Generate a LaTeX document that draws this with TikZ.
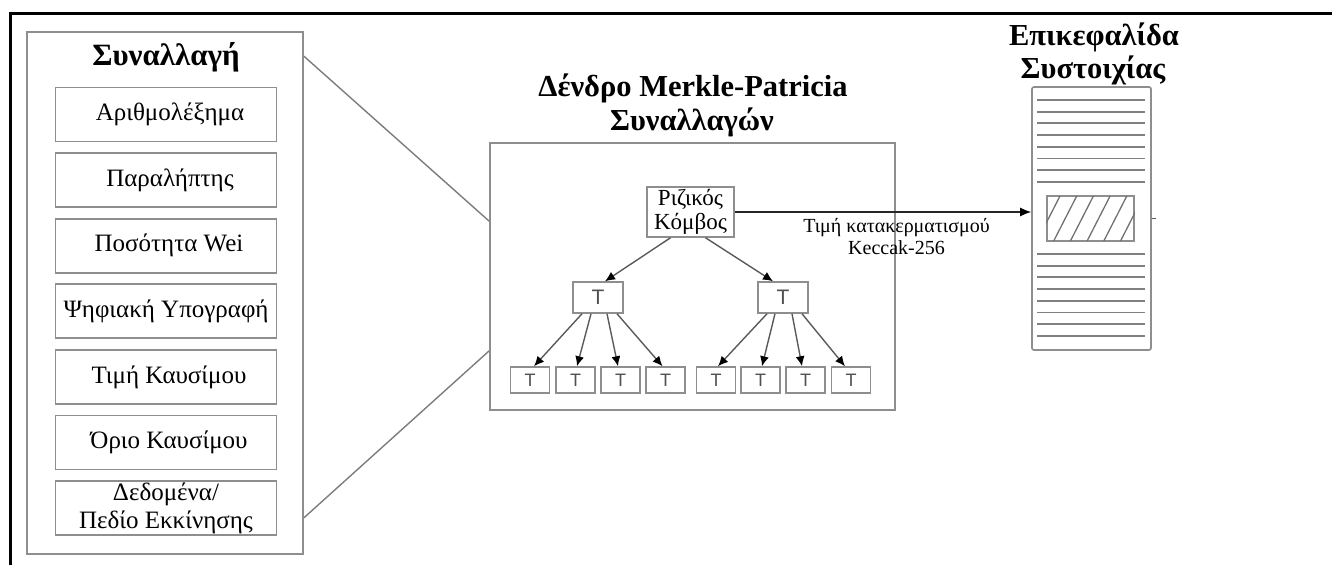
\documentclass[tikz,border=0pt]{standalone}
\usepackage{fontspec}
\setmainfont{Liberation Serif}
\setsansfont{Liberation Sans}
\usetikzlibrary{arrows.meta}
\definecolor{boxgray}{HTML}{8E8E8E}
\definecolor{conngray}{HTML}{7C7C7C}
\definecolor{arrowgray}{HTML}{5A5A5A}
\definecolor{labelgray}{HTML}{505050}

\begin{document}
\begin{tikzpicture}[x=1pt,y=-1pt,
  panel/.style={draw=boxgray, line width=1.7pt, inner sep=0pt},
  field/.style={draw=boxgray, line width=1.7pt, minimum width=221pt, minimum height=54pt,
    inner sep=0pt, align=center, font=\fontsize{25}{28}\selectfont},
  heading/.style={font=\bfseries\fontsize{30.5}{34}\selectfont, anchor=base},
  tbox/.style={draw=boxgray, line width=1.5pt, inner sep=0pt, text=labelgray},
  midnode/.style={tbox, minimum width=50pt, minimum height=31pt, font=\sffamily\fontsize{21}{21}\selectfont},
  leafnode/.style={tbox, minimum width=39pt, minimum height=26pt, font=\sffamily\fontsize{18}{18}\selectfont},
  tarrow/.style={draw=arrowgray, line width=1.4pt, -{Latex[length=10pt,width=9pt,color=black]}},
  conn/.style={draw=conngray, line width=1.4pt},
  hasharrow/.style={draw=black!85, line width=1.3pt, -{Latex[length=11pt,width=9pt,color=black]}},
  rule/.style={draw=boxgray!90!black, line width=1.9pt}
]
\useasboundingbox (0,0) rectangle (1332,565);

% outer frame (top and left edges only)
\draw[line width=3pt, line join=miter] (10,565) -- (10,13) -- (1332,13);

% transaction panel
\node[panel, minimum width=276pt, minimum height=522pt] (tx) at (165,293) {};
\node[heading, font=\bfseries\fontsize{31}{34}\selectfont] (txtitle) at (166,65) {Συναλλαγή};
\node[field] (f1) at (166,114.5) {\hspace*{8pt}Αριθμολέξημα};
\node[field] (f2) at (166,180.1) {\hspace*{8pt}Παραλήπτης};
\node[field] (f3) at (166,245.7) {\hspace*{6pt}Ποσότητα Wei};
\node[field] (f4) at (166,311.3) {Ψηφιακή Υπογραφή};
\node[field] (f5) at (166,376.9) {\hspace*{6pt}Τιμή Καυσίμου};
\node[field] (f6) at (166,442.5) {\hspace*{6pt}Όριο Καυσίμου};
\node[field] (f7) at (166,508.1) {Δεδομένα/\\Πεδίο Εκκίνησης};

% Merkle-Patricia trie panel
\node[panel, minimum width=405pt, minimum height=267pt] (tree) at (692.5,276.5) {};
\node[heading] (treetitleA) at (693,96) {Δένδρο Merkle-Patricia};
\node[heading] (treetitleB) at (692,130) {Συναλλαγών};

\draw[conn] ([yshift=-25pt]tx.north east) -- ([yshift=-79pt]tree.north west);
\draw[conn] ([yshift=37pt]tx.south east) -- ([yshift=60pt]tree.south west);

\node[tbox, text=black, minimum width=87pt, minimum height=50pt, align=center,
  font=\fontsize{23}{24}\selectfont] (root) at (690.5,212) {Ριζικός\\Κόμβος};

\node[midnode] (m1) at (598,297.5) {T};
\node[midnode] (m2) at (783,297.5) {T};

\foreach \i/\xx in {1/530,2/575.5,3/620.5,4/665.5,5/716,6/760.5,7/805.5,8/851}
  \node[leafnode] (l\i) at (\xx,380) {T};

\draw[tarrow] ([xshift=-20pt]root.south) -- ([xshift=7pt]m1.north);
\draw[tarrow] ([xshift=15pt]root.south) -- ([xshift=-10pt]m2.north);

\foreach \i/\s/\t in {1/-16/4,2/-7/1.5,3/9/-2.5,4/19/-3}
  \draw[tarrow] ([xshift=\s pt]m1.south) -- ([xshift=\t pt]l\i.north);
\foreach \i/\s/\t in {5/-16/2,6/-8/1.5,7/9/-3.5,8/19/-6}
  \draw[tarrow] ([xshift=\s pt]m2.south) -- ([xshift=\t pt]l\i.north);

% block header
\node[panel, rounded corners=2pt, minimum width=119pt, minimum height=263pt] (hdr) at (1091.5,218.5) {};
\node[heading] (hdrtitleA) at (1094,45) {Επικεφαλίδα};
\node[heading] (hdrtitleB) at (1093,78) {Συστοιχίας};

\foreach \yy in {100,111.7,123.4,135.1,146.8,158.5,170.2,181.9,
                 254,265.7,277.4,289.1,300.8,312.5,324.2,335.9}
  \draw[rule] (1037,\yy) -- (1145,\yy);

\node[draw=boxgray, line width=1.5pt, minimum width=87pt, minimum height=45pt, inner sep=0pt] (slot) at (1090.5,218.5) {};
\begin{scope}
  \clip (slot.south west) rectangle (slot.north east);
  \foreach \k in {-1,...,5}
    \draw[boxgray!80!black, line width=1.3pt] (1037+16.7*\k,241) -- (1060+16.7*\k,196);
\end{scope}
\draw[draw=arrowgray, line width=1.3pt] (hdr.east) -- ++(4,0);

% root hash into the header
\draw[hasharrow] (root.east) -- (root.east -| hdr.west);
\node[align=center, font=\fontsize{20}{22}\selectfont] (hashlbl) at (896.5,237)
  {Τιμή κατακερματισμού\\Keccak-256};

\end{tikzpicture}
\end{document}
